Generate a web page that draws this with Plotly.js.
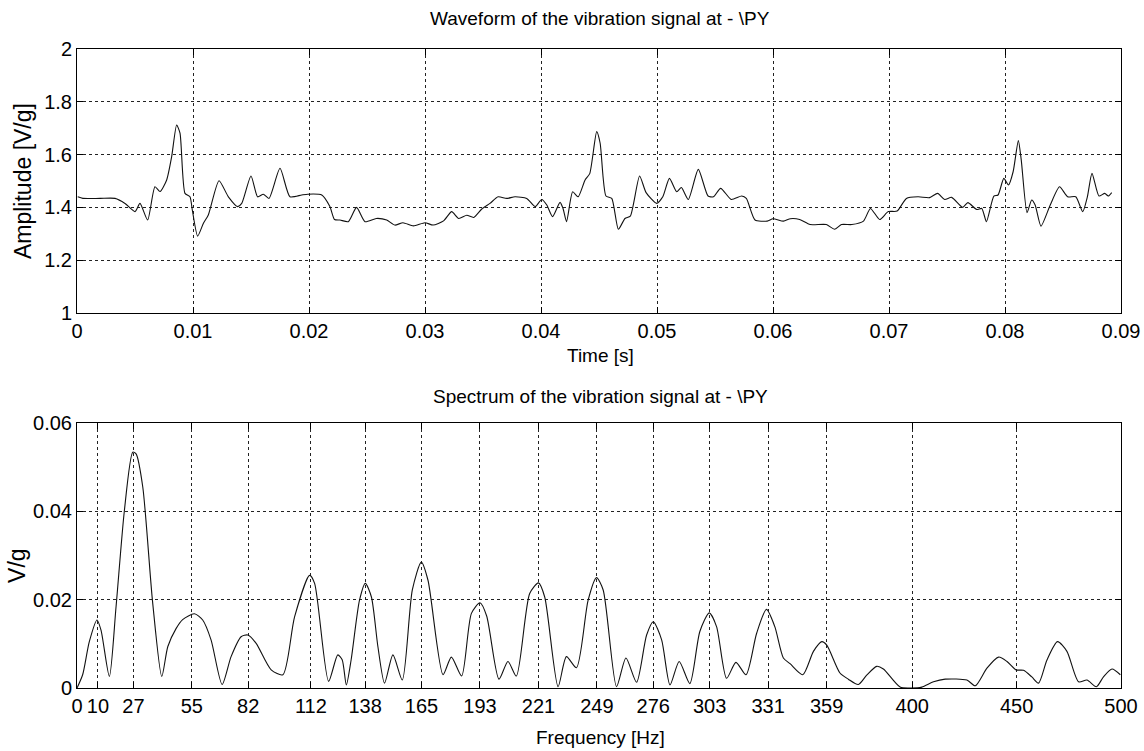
<!DOCTYPE html>
<html>
<head>
<meta charset="utf-8">
<script src="https://cdn.plot.ly/plotly-3.0.1.min.js"></script>
<style>html,body{margin:0;padding:0;background:#fff;}#chart{width:1144px;height:751px;}</style>
</head>
<body>
<div id="chart"></div>
<script>
// ---- Waveform (time in seconds, amplitude in V/g) ----
const waveTime = [0.00006,0.0005,0.0020,0.00328,0.00414,0.0050,0.00543,0.00609,0.00672,0.00716,0.00773,0.00816,0.00859,0.00888,0.00931,0.00974,0.00994,0.0104,0.0109,0.01132,0.01224,0.01305,0.01385,0.0142,0.0150,0.01557,0.01606,0.01655,0.0175,0.01836,0.01937,0.0199,0.0211,0.0218,0.0222,0.02267,0.02339,0.0241,0.02483,0.0258,0.0267,0.0274,0.0281,0.0290,0.0300,0.0307,0.0316,0.0323,0.0329,0.0336,0.0342,0.0349,0.0356,0.0363,0.03704,0.03776,0.03877,0.0395,0.04006,0.0405,0.0410,0.04164,0.0419,0.0422,0.04273,0.0432,0.0438,0.0442,0.0448,0.0451,0.0456,0.0461,0.04667,0.04724,0.0477,0.0485,0.04906,0.04997,0.0505,0.05107,0.0517,0.0521,0.0527,0.05356,0.0544,0.05486,0.05549,0.0564,0.0573,0.0577,0.05845,0.0595,0.0600,0.0609,0.0615,0.0623,0.0632,0.0646,0.0653,0.0659,0.0668,0.0678,0.0684,0.0692,0.06994,0.0707,0.0715,0.0725,0.0735,0.0742,0.0748,0.0754,0.07635,0.0768,0.07756,0.0780,0.0784,0.07904,0.0794,0.0799,0.0803,0.0807,0.08115,0.0814,0.0819,0.0823,0.0826,0.0831,0.0839,0.0847,0.0854,0.0861,0.0867,0.0871,0.0875,0.0881,0.0886,0.0889,0.0892];
const waveAmp = [1.440,1.434,1.434,1.434,1.415,1.384,1.415,1.352,1.478,1.460,1.504,1.592,1.712,1.681,1.453,1.440,1.390,1.291,1.340,1.371,1.501,1.440,1.403,1.415,1.519,1.440,1.450,1.434,1.548,1.440,1.447,1.450,1.447,1.403,1.354,1.352,1.346,1.400,1.346,1.358,1.352,1.333,1.342,1.330,1.342,1.333,1.349,1.384,1.358,1.370,1.362,1.394,1.415,1.440,1.434,1.440,1.434,1.403,1.430,1.409,1.365,1.419,1.396,1.346,1.459,1.440,1.504,1.528,1.687,1.643,1.443,1.434,1.317,1.358,1.367,1.519,1.456,1.415,1.440,1.510,1.459,1.475,1.430,1.544,1.443,1.440,1.472,1.430,1.443,1.434,1.352,1.348,1.357,1.348,1.357,1.354,1.335,1.335,1.317,1.335,1.335,1.348,1.396,1.354,1.384,1.386,1.434,1.440,1.437,1.453,1.430,1.438,1.400,1.418,1.392,1.396,1.346,1.443,1.447,1.510,1.485,1.535,1.653,1.580,1.380,1.428,1.409,1.329,1.409,1.478,1.440,1.440,1.384,1.440,1.529,1.443,1.453,1.443,1.456];

// ---- Spectrum (frequency in Hz, magnitude in V/g) ----
const specFreq = [0,2.7,5.9,9.6,11.5,15.5,18.7,22.7,26.7,28.3,31.5,36.2,40.6,43.5,47.5,50.6,56.2,60.2,64.2,69.5,73.8,78.6,81.8,85.8,93.0,98.6,104.2,111.4,113.8,120.5,124.9,127.0,129.0,131.3,135.3,138.1,141.0,144.1,147.3,151.3,155.8,160.6,164.9,168.1,175.3,179.3,184.2,188.9,193.0,196.2,202.1,206.4,210.4,216.8,221.0,224.0,230.4,234.4,239.2,244.8,248.8,252.0,258.4,262.9,268.0,272.8,276.0,280.0,284.0,288.4,293.5,298.3,302.8,306.3,311.1,315.6,320.4,325.5,330.2,334.2,338.3,341.5,347.6,352.7,356.7,359.1,365.4,369.4,374.2,378.2,383.0,386.2,394.2,399.5,404.6,410.2,415.8,426.2,430.2,435.8,441.4,445.4,449.8,453.3,457.3,460.5,464.5,469.6,474.1,479.7,483.7,488.2,491.7,495.7,499.7];
const specMag = [0.0000,0.0030,0.0105,0.0154,0.0131,0.0026,0.0184,0.0402,0.0534,0.0530,0.0455,0.0195,0.0026,0.0094,0.0135,0.0155,0.0168,0.0154,0.0109,0.0008,0.0071,0.0116,0.0120,0.0101,0.0041,0.0030,0.0161,0.0255,0.0237,0.0015,0.0075,0.0064,0.0007,0.0064,0.0199,0.0237,0.0206,0.0094,0.0011,0.0075,0.0018,0.0222,0.0285,0.0244,0.0030,0.0070,0.0027,0.0169,0.0193,0.0163,0.0020,0.0060,0.0027,0.0214,0.0238,0.0206,0.0003,0.0071,0.0046,0.0199,0.0250,0.0222,0.0003,0.0068,0.0013,0.0120,0.0150,0.0109,0.0007,0.0060,0.0010,0.0128,0.0170,0.0139,0.0022,0.0058,0.0030,0.0124,0.0178,0.0139,0.0068,0.0055,0.0030,0.0083,0.0105,0.0097,0.0034,0.0020,0.0008,0.0029,0.0049,0.0043,0.0002,0.0000,0.0002,0.0014,0.0020,0.0018,0.0005,0.0045,0.0070,0.0060,0.0041,0.0040,0.0025,0.0011,0.0063,0.0105,0.0083,0.0014,0.0018,0.0003,0.0026,0.0043,0.0030];

// ---- Tick labels ----
const freqTicks = [0,10,27,55,82,112,138,165,193,221,249,276,303,331,359,400,450,500];
const freqTickText = ['0','10','27','55','82','112','138','165','193','221','249','276','303','331','359','400','450','500'];

const topTitle = 'Waveform of the vibration signal at - \\PY';
const bottomTitle = 'Spectrum of the vibration signal at - \\PY';

const tickFont = {family: '"Liberation Sans Narrow", "Liberation Sans", Arial, sans-serif', size: 20, color: '#000'};
const labelFont = {family: '"Liberation Sans", Arial, sans-serif', size: 19, color: '#000'};

const commonAxis = {
  showline: true, linecolor: '#000', linewidth: 1, mirror: 'allticks',
  ticks: 'inside', ticklen: 6, tickcolor: '#000', tickwidth: 1,
  showgrid: true, gridcolor: '#222', gridwidth: 1, griddash: '3px,3px',
  zeroline: false, tickfont: tickFont, fixedrange: true
};

const traces = [
  {x: waveTime, y: waveAmp, type: 'scatter', mode: 'lines', xaxis: 'x', yaxis: 'y',
   line: {color: '#111', width: 1.1, shape: 'spline', smoothing: 0.6}, hoverinfo: 'skip'},
  {x: specFreq, y: specMag, type: 'scatter', mode: 'lines', xaxis: 'x2', yaxis: 'y2',
   line: {color: '#111', width: 1.1, shape: 'spline', smoothing: 0.7}, hoverinfo: 'skip'}
];

const layout = {
  width: 1144, height: 751,
  margin: {l: 77, r: 23, t: 49, b: 63},
  paper_bgcolor: '#fff', plot_bgcolor: '#fff',
  showlegend: false,
  xaxis: Object.assign({}, commonAxis, {domain: [0, 1], anchor: 'y', range: [0, 0.09], tick0: 0, dtick: 0.01}),
  yaxis: Object.assign({}, commonAxis, {domain: [0.5869, 1], anchor: 'x', range: [1, 2], tick0: 1, dtick: 0.2}),
  xaxis2: Object.assign({}, commonAxis, {domain: [0, 1], anchor: 'y2', range: [0, 500], tickmode: 'array', tickvals: freqTicks, ticktext: freqTickText}),
  yaxis2: Object.assign({}, commonAxis, {domain: [0, 0.4147], anchor: 'x2', range: [0, 0.06], tick0: 0, dtick: 0.02}),
  annotations: [
    {text: topTitle, xref: 'paper', yref: 'paper', x: 0.501, y: 1.0485, xanchor: 'center', yanchor: 'middle', showarrow: false, font: labelFont},
    {text: 'Time [s]', xref: 'paper', yref: 'paper', x: 0.501, y: 0.521, xanchor: 'center', yanchor: 'middle', showarrow: false, font: labelFont},
    {text: bottomTitle, xref: 'paper', yref: 'paper', x: 0.501, y: 0.4554, xanchor: 'center', yanchor: 'middle', showarrow: false, font: labelFont},
    {text: 'Frequency [Hz]', xref: 'paper', yref: 'paper', x: 0.501, y: -0.078, xanchor: 'center', yanchor: 'middle', showarrow: false, font: labelFont},
    {text: 'Amplitude [V/g]', xref: 'paper', yref: 'paper', x: -0.051, y: 0.793, xanchor: 'center', yanchor: 'middle', textangle: -90, showarrow: false, font: Object.assign({}, labelFont, {size: 23})},
    {text: 'V/g', xref: 'paper', yref: 'paper', x: -0.0575, y: 0.1925, xanchor: 'center', yanchor: 'middle', textangle: -90, showarrow: false, font: Object.assign({}, labelFont, {size: 23})}
  ]
};

Plotly.newPlot('chart', traces, layout, {staticPlot: true, displayModeBar: false});
</script>
</body>
</html>
